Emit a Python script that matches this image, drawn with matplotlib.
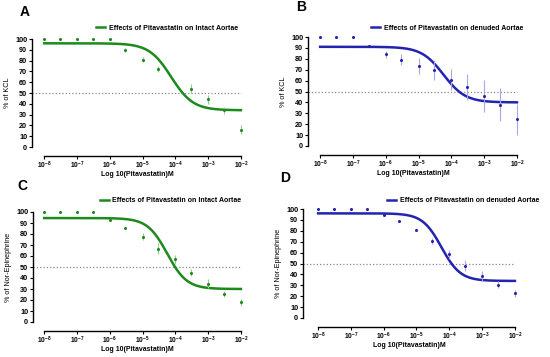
import numpy as np
import matplotlib.pyplot as plt
from matplotlib.ticker import FixedLocator, LogLocator, NullFormatter

plt.rcParams['font.family'] = ['Liberation Sans', 'DejaVu Sans']
plt.rcParams['mathtext.fontset'] = 'custom'
plt.rcParams['mathtext.bf'] = 'Liberation Sans:bold'

# concentrations (M)
conc = [1e-8, 3e-8, 1e-7, 3e-7, 1e-6, 3e-6, 1e-5, 3e-5, 1e-4, 3e-4, 1e-3, 3e-3, 1e-2]

# panel A: intact aortae, % of KCL (no point at 1e-4)
a_x = [1e-8, 3e-8, 1e-7, 3e-7, 1e-6, 3e-6, 1e-5, 3e-5, 3e-4, 1e-3, 3e-3, 1e-2]
a_y = [100, 100, 100, 100, 100, 90, 81, 72, 54, 44, 34, 16]
a_err = [0, 0, 0, 0, 0, 2, 2, 3, 4, 4, 3, 4]
a_fit = dict(top=96, bottom=34, logec=-4.13, hill=1.3)

# panel B: denuded aortae, % of KCL
b_y = [100, 100, 100, 92, 84, 79, 73.5, 69.5, 61, 54, 46, 38, 24.5]
b_err = [0, 0, 0, 1, 3, 5, 7, 9, 10, 12, 15, 15, 14]
b_fit = dict(top=91, bottom=40, logec=-4.24, hill=1.3)

# panel C: intact aortae, % of Nor-Epinephrine
c_y = [100, 100, 100, 100, 93, 85.5, 77.5, 66.5, 57, 45, 35, 25.5, 18]
c_err = [0, 0, 0, 0, 1, 1, 3, 5, 4, 3, 4, 3, 3]
c_fit = dict(top=94.5, bottom=30, logec=-4.25, hill=1.45)

# panel D: denuded aortae, % of Nor-Epinephrine
d_y = [100, 100, 100, 100, 94.5, 89, 81, 70.5, 58.5, 48, 38.5, 30.5, 22.5]
d_err = [0, 0, 0, 0, 1, 1, 1, 3, 4, 5, 5, 3, 3]
d_fit = dict(top=96, bottom=34, logec=-4.24, hill=1.5)

green = '#1c8a1c'
green_light = '#8fcf8f'
blue = '#2323b0'
blue_light = '#a8a8e6'

xticks = [1e-8, 1e-7, 1e-6, 1e-5, 1e-4, 1e-3, 1e-2]
xticklabels = [r'$\mathbf{10^{%d}}$' % e for e in range(-8, -1)]


def sigmoid(logx, top, bottom, logec, hill):
    return bottom + (top - bottom) / (1 + 10 ** ((logx - logec) * hill))


W, H = 550, 357


def panel(fig, px_left, px_top, px_bottom, left_log, x, y, err, fit,
          col, col_light, ylabel, legend, letter, letter_pos, leg_pos):
    right_log = -1.95
    dec = 32.8
    width = (right_log - left_log) * dec
    hpx = px_bottom - px_top
    ax = fig.add_axes([px_left / W, 1 - px_bottom / H, width / W, hpx / H])
    ax.set_xscale('log')
    ax.set_xlim(10 ** left_log, 10 ** right_log)
    ax.set_ylim(0, 100)

    xx = np.linspace(-8, -2, 300)
    line, = ax.plot(10 ** xx, sigmoid(xx, **fit), color=col, lw=1.8,
                    clip_on=False, zorder=3)
    ax.errorbar(x, y, yerr=err, fmt='o', ms=1.2, color=col, ecolor=col_light,
                elinewidth=0.8, capsize=0, clip_on=False, zorder=4)
    ax.hlines(50, 10 ** left_log, 1e-2, colors='#888888', linestyles=':',
              lw=0.9, zorder=1)

    for s in ['top', 'right']:
        ax.spines[s].set_visible(False)
    ax.spines['bottom'].set_position(('outward', 6.5))
    ax.spines['bottom'].set_bounds(1e-8, 1e-2)
    for s in ['left', 'bottom']:
        ax.spines[s].set_linewidth(1.0)

    ax.set_yticks(range(0, 101, 10))
    ax.set_yticklabels([str(v) for v in range(0, 101, 10)],
                       fontsize=5.2, fontweight='bold')
    ax.xaxis.set_major_locator(FixedLocator(xticks))
    ax.set_xticklabels(xticklabels, fontsize=4.8)
    ax.xaxis.set_minor_locator(LogLocator(base=10, subs=np.arange(2, 10)))
    ax.xaxis.set_minor_formatter(NullFormatter())
    ax.tick_params(axis='both', which='major', length=2.5, width=0.8, pad=1)
    ax.tick_params(axis='x', which='major', pad=0.5)
    ax.tick_params(axis='x', which='minor', length=1.5, width=0.5)

    ax.set_ylabel(ylabel, fontsize=5.2, labelpad=3)
    ax.set_xlabel('Log 10(Pitavastatin)M', fontsize=5, fontweight='bold',
                  va='center')
    ax.xaxis.set_label_coords(0.5, -27.5 / hpx)

    fig.legend([line], [legend], loc='center left',
               bbox_to_anchor=(leg_pos[0] / W, 1 - leg_pos[1] / H),
               frameon=False, prop={'size': 5, 'weight': 'bold'},
               handlelength=1.3, handletextpad=0.5, borderpad=0,
               borderaxespad=0)
    fig.text(letter_pos[0] / W, 1 - letter_pos[1] / H, letter, fontsize=10,
             fontweight='bold', ha='left', va='center')
    return ax


fig = plt.figure(figsize=(W / 100, H / 100), dpi=100)

panel(fig, 32, 39, 147, -8.37, a_x, a_y, a_err, a_fit, green, green_light,
      '% of KCL', 'Effects of Pitavastatin on Intact Aortae', 'A',
      (20, 12), (96, 28))
panel(fig, 308, 37, 146, -8.37, conc, b_y, b_err, b_fit, blue, blue_light,
      '% of KCL', 'Effects of Pitavastatin on denuded Aortae', 'B',
      (296, 7), (371, 28))
panel(fig, 33, 212, 322, -8.34, conc, c_y, c_err, c_fit, green, green_light,
      '% of Nor-Epinephrine', 'Effects of Pitavastatin on Intact Aortae', 'C',
      (17, 186), (100, 201))
panel(fig, 303, 209, 318, -8.46, conc, d_y, d_err, d_fit, blue, blue_light,
      '% of Nor-Epinephrine', 'Effects of Pitavastatin on denuded Aortae', 'D',
      (280, 178), (387, 201))

fig.savefig('out.png', dpi=100, facecolor='white')
